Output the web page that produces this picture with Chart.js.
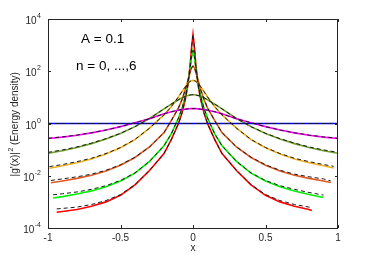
<!DOCTYPE html>
<html>
<head>
<meta charset="utf-8">
<script src="https://cdn.jsdelivr.net/npm/chart.js@4.4.0/dist/chart.umd.min.js"></script>
<style>
  html, body { margin: 0; padding: 0; background: #fff; }
  #wrap { width: 374px; height: 257px; }
</style>
</head>
<body>
<div id="wrap"><canvas id="energyChart" width="374" height="257"></canvas></div>
<script>

/// DATA ///
// values are stored as log10 exponents

const xTicks = [-1, -0.5, 0, 0.5, 1];
const yTickExponents = [-4, -2, 0, 2, 4];
const notes = ['A = 0.1', 'n = 0, ...,6'];

// n = 0 (flat)
const xN0 = [-1, 1];
const expN0 = [0, 0];
const dashN0 = [0, 0];

// n = 1
const xN1 = [-1, -0.9, -0.8, -0.7, -0.6, -0.5, -0.4, -0.3, -0.2, -0.15, -0.1, -0.075, -0.05, -0.035, -0.02, -0.01, 0, 0.01, 0.02, 0.035, 0.05, 0.075, 0.1, 0.15, 0.2, 0.3, 0.4, 0.5, 0.6, 0.7, 0.8, 0.9, 1];
const expN1 = [-0.575, -0.52, -0.45, -0.36, -0.25, -0.12, 0.03, 0.18, 0.37, 0.45, 0.51, 0.54, 0.55, 0.56, 0.57, 0.57, 0.57, 0.57, 0.57, 0.56, 0.55, 0.54, 0.51, 0.45, 0.37, 0.18, 0.03, -0.12, -0.25, -0.36, -0.45, -0.52, -0.575];
const dashN1 = [-0.565, -0.512, -0.444, -0.356, -0.248, -0.12, 0.03, 0.18, 0.37, 0.45, 0.51, 0.54, 0.55, 0.56, 0.57, 0.57, 0.57, 0.57, 0.57, 0.56, 0.55, 0.54, 0.51, 0.45, 0.37, 0.18, 0.03, -0.12, -0.248, -0.356, -0.444, -0.512, -0.565];

// n = 2
const xN2 = [-1, -0.9, -0.8, -0.7, -0.6, -0.5, -0.4, -0.3, -0.2, -0.15, -0.1, -0.075, -0.05, -0.035, -0.02, -0.01, 0, 0.01, 0.02, 0.035, 0.05, 0.075, 0.1, 0.15, 0.2, 0.3, 0.4, 0.5, 0.6, 0.7, 0.8, 0.9, 1];
const expN2 = [-1.14, -1.04, -0.92, -0.77, -0.59, -0.38, -0.12, 0.19, 0.56, 0.74, 0.91, 0.99, 1.05, 1.07, 1.09, 1.10, 1.10, 1.10, 1.09, 1.07, 1.05, 0.99, 0.91, 0.74, 0.56, 0.19, -0.12, -0.38, -0.59, -0.77, -0.92, -1.04, -1.14];
const dashN2 = [-1.105, -1.01, -0.895, -0.75, -0.58, -0.375, -0.12, 0.19, 0.56, 0.74, 0.91, 0.99, 1.05, 1.07, 1.09, 1.10, 1.10, 1.10, 1.09, 1.07, 1.05, 0.99, 0.91, 0.74, 0.56, 0.19, -0.12, -0.375, -0.58, -0.75, -0.895, -1.01, -1.105];

// n = 3
const xN3 = [-0.99, -0.9, -0.8, -0.7, -0.6, -0.5, -0.4, -0.3, -0.2, -0.15, -0.1, -0.075, -0.05, -0.035, -0.02, -0.01, 0, 0.01, 0.02, 0.035, 0.05, 0.075, 0.1, 0.15, 0.2, 0.3, 0.4, 0.5, 0.6, 0.7, 0.8, 0.9, 0.97];
const expN3 = [-1.71, -1.62, -1.50, -1.36, -1.17, -0.93, -0.62, -0.18, 0.33, 0.64, 1.02, 1.23, 1.43, 1.53, 1.61, 1.64, 1.65, 1.64, 1.61, 1.53, 1.43, 1.23, 1.02, 0.64, 0.33, -0.18, -0.62, -0.93, -1.17, -1.36, -1.50, -1.62, -1.70];
const dashN3 = [-1.65, -1.57, -1.46, -1.33, -1.15, -0.92, -0.61, -0.18, 0.33, 0.64, 1.02, 1.23, 1.43, 1.53, 1.61, 1.64, 1.65, 1.64, 1.61, 1.53, 1.43, 1.23, 1.02, 0.64, 0.33, -0.18, -0.61, -0.92, -1.15, -1.33, -1.46, -1.57, -1.64];

// n = 4
const xN4 = [-0.98, -0.9, -0.8, -0.7, -0.6, -0.5, -0.4, -0.3, -0.2, -0.15, -0.1, -0.075, -0.05, -0.035, -0.02, -0.01, 0, 0.01, 0.02, 0.035, 0.05, 0.075, 0.1, 0.15, 0.2, 0.3, 0.4, 0.5, 0.6, 0.7, 0.8, 0.9, 0.95];
const expN4 = [-2.27, -2.20, -2.10, -1.98, -1.82, -1.60, -1.30, -0.90, -0.35, 0.11, 0.60, 0.93, 1.35, 1.65, 1.96, 2.13, 2.20, 2.13, 1.96, 1.65, 1.35, 0.93, 0.60, 0.11, -0.35, -0.90, -1.30, -1.60, -1.82, -1.98, -2.10, -2.20, -2.26];
const dashN4 = [-2.18, -2.12, -2.04, -1.94, -1.79, -1.58, -1.29, -0.90, -0.35, 0.11, 0.60, 0.93, 1.35, 1.65, 1.96, 2.13, 2.20, 2.13, 1.96, 1.65, 1.35, 0.93, 0.60, 0.11, -0.35, -0.90, -1.29, -1.58, -1.79, -1.94, -2.04, -2.12, -2.20];

// n = 5
const xN5 = [-0.965, -0.9, -0.8, -0.7, -0.6, -0.5, -0.4, -0.3, -0.2, -0.15, -0.1, -0.075, -0.05, -0.035, -0.02, -0.01, 0, 0.01, 0.02, 0.035, 0.05, 0.075, 0.1, 0.15, 0.2, 0.3, 0.4, 0.5, 0.6, 0.7, 0.8, 0.9];
const expN5 = [-2.85, -2.80, -2.70, -2.58, -2.42, -2.20, -1.90, -1.45, -0.85, -0.40, 0.21, 0.59, 1.11, 1.54, 2.11, 2.55, 2.80, 2.55, 2.11, 1.54, 1.11, 0.59, 0.21, -0.40, -0.85, -1.45, -1.90, -2.20, -2.42, -2.58, -2.72, -2.83];
const dashN5 = [-2.73, -2.69, -2.62, -2.52, -2.38, -2.18, -1.89, -1.45, -0.85, -0.40, 0.21, 0.59, 1.11, 1.54, 2.11, 2.55, 2.80, 2.55, 2.11, 1.54, 1.11, 0.59, 0.21, -0.40, -0.85, -1.45, -1.89, -2.18, -2.38, -2.52, -2.64, -2.74];

// n = 6
const xN6 = [-0.94, -0.9, -0.8, -0.7, -0.6, -0.5, -0.4, -0.3, -0.2, -0.15, -0.1, -0.075, -0.05, -0.035, -0.02, -0.01, 0, 0.01, 0.02, 0.035, 0.05, 0.075, 0.1, 0.15, 0.2, 0.3, 0.4, 0.5, 0.6, 0.7, 0.8, 0.82];
const expN6 = [-3.40, -3.37, -3.29, -3.17, -3.00, -2.75, -2.35, -1.80, -1.15, -0.62, 0.00, 0.42, 1.00, 1.49, 2.22, 2.90, 3.41, 2.90, 2.22, 1.49, 1.00, 0.42, 0.00, -0.62, -1.15, -1.80, -2.35, -2.75, -3.00, -3.17, -3.29, -3.33];
const dashN6 = [-3.27, -3.25, -3.20, -3.10, -2.95, -2.72, -2.34, -1.80, -1.15, -0.62, 0.00, 0.42, 1.00, 1.49, 2.22, 2.90, 3.41, 2.90, 2.22, 1.49, 1.00, 0.42, 0.00, -0.62, -1.15, -1.80, -2.34, -2.72, -2.95, -3.10, -3.20, -3.23];

const curves = [
    { x: xN0, e: expN0, d: dashN0, color: '#0000ff' },
    { x: xN1, e: expN1, d: dashN1, color: '#ff00ff' },
    { x: xN2, e: expN2, d: dashN2, color: '#6f9f2a' },
    { x: xN3, e: expN3, d: dashN3, color: '#edb120' },
    { x: xN4, e: expN4, d: dashN4, color: '#dd5a22' },
    { x: xN5, e: expN5, d: dashN5, color: '#00ee00' },
    { x: xN6, e: expN6, d: dashN6, color: '#ff0000' },
];


/// DATASETS ///

function toPoints(xs, exps) {
    return xs.map((x, i) => ({ x: x, y: Math.pow(10, exps[i]) }));
}

const datasets = [];
curves.forEach(c => {
    datasets.push({
        data: toPoints(c.x, c.e),
        borderColor: c.color,
        borderWidth: 1.6,
        order: 2
    });
});
// black dashed approximations on top
curves.forEach(c => {
    datasets.push({
        data: toPoints(c.x, c.d),
        borderColor: '#1a1a1a',
        borderWidth: 1,
        borderDash: [4, 3],
        order: 1
    });
});


/// FRAME, TICKS, TEXT ///

const FONT = '"Liberation Sans", Arial, sans-serif';
const AXIS_COLOR = '#262626';

const framePlugin = {
    id: 'frame',
    afterDraw(chart) {
        const ctx = chart.ctx;
        const a = chart.chartArea;
        const xs = chart.scales.x;
        const ys = chart.scales.y;
        ctx.save();

        // box
        ctx.strokeStyle = AXIS_COLOR;
        ctx.lineWidth = 1;
        ctx.strokeRect(a.left + 0.5, a.top + 0.5, a.right - a.left - 1, a.bottom - a.top);

        // inward ticks on all four sides
        ctx.beginPath();
        xTicks.forEach(v => {
            const px = Math.round(xs.getPixelForValue(v)) + 0.5;
            ctx.moveTo(px, a.bottom);
            ctx.lineTo(px, a.bottom - 3);
            ctx.moveTo(px, a.top);
            ctx.lineTo(px, a.top + 3);
        });
        yTickExponents.forEach(e => {
            const py = Math.round(ys.getPixelForValue(Math.pow(10, e))) + 0.5;
            ctx.moveTo(a.left, py);
            ctx.lineTo(a.left + 3, py);
            ctx.moveTo(a.right, py);
            ctx.lineTo(a.right - 3, py);
        });
        ctx.stroke();

        // y tick labels: 10 with a raised exponent
        ctx.fillStyle = AXIS_COLOR;
        ctx.textBaseline = 'alphabetic';
        ctx.textAlign = 'left';
        yTickExponents.forEach(e => {
            const py = ys.getPixelForValue(Math.pow(10, e));
            const sup = String(e);
            ctx.font = '7px ' + FONT;
            const wSup = ctx.measureText(sup).width;
            ctx.font = '10px ' + FONT;
            const wBase = ctx.measureText('10').width;
            const right = 41;
            ctx.fillText('10', right - wSup - wBase - 0.5, py + 5);
            ctx.font = '7px ' + FONT;
            ctx.fillText(sup, right - wSup, py - 1);
        });

        // x title
        ctx.font = '10px ' + FONT;
        ctx.textAlign = 'center';
        ctx.fillText('x', (a.left + a.right) / 2, 251);

        // y title, rotated, with superscript 2
        ctx.save();
        ctx.translate(18, (a.top + a.bottom) / 2 + 1);
        ctx.rotate(-Math.PI / 2);
        ctx.textAlign = 'left';
        const p1 = '|g\'(x)|';
        const p2 = '2';
        const p3 = ' (Energy density)';
        ctx.font = '10px ' + FONT;
        const w1 = ctx.measureText(p1).width;
        const w3 = ctx.measureText(p3).width;
        ctx.font = '7px ' + FONT;
        const w2 = ctx.measureText(p2).width;
        let x0 = -(w1 + w2 + w3) / 2;
        ctx.font = '10px ' + FONT;
        ctx.fillText(p1, x0, 0);
        ctx.font = '7px ' + FONT;
        ctx.fillText(p2, x0 + w1 + 0.5, -5);
        ctx.font = '10px ' + FONT;
        ctx.fillText(p3, x0 + w1 + w2 + 0.5, 0);
        ctx.restore();

        // annotations
        ctx.fillStyle = '#000';
        ctx.font = '13.5px ' + FONT;
        ctx.textAlign = 'left';
        ctx.textBaseline = 'middle';
        ctx.fillText(notes[0], 81, 39);
        ctx.fillText(notes[1], 76, 66);

        ctx.restore();
    }
};


/// CHART ///

const ctx = document.getElementById('energyChart').getContext('2d');

const config = {
    type: 'line',
    data: { datasets: datasets },
    plugins: [framePlugin],
    options: {
        responsive: false,
        animation: false,
        devicePixelRatio: 1,
        layout: { padding: { left: 0, right: 36, top: 19, bottom: 0 } },
        elements: {
            point: { radius: 0 },
            line: { tension: 0, fill: false }
        },
        plugins: {
            legend: { display: false },
            tooltip: { enabled: false }
        },
        scales: {
            x: {
                type: 'linear',
                min: -1,
                max: 1,
                afterBuildTicks: s => { s.ticks = xTicks.map(v => ({ value: v })); },
                afterFit: s => { s.height = 29; },
                grid: { display: false, drawTicks: false },
                border: { display: false },
                ticks: {
                    padding: 4,
                    color: AXIS_COLOR,
                    font: { family: FONT, size: 10 },
                    maxRotation: 0,
                    autoSkip: false,
                    callback: v => String(v)
                }
            },
            y: {
                type: 'logarithmic',
                min: 1e-4,
                max: 1e4,
                afterBuildTicks: s => { s.ticks = yTickExponents.map(e => ({ value: Math.pow(10, e) })); },
                afterFit: s => { s.width = 48; },
                grid: { display: false, drawTicks: false },
                border: { display: false },
                ticks: { display: false } // drawn by the frame plugin (superscripts)
            }
        }
    }
};

const myChart = new Chart(ctx, config);
</script>
</body>
</html>
